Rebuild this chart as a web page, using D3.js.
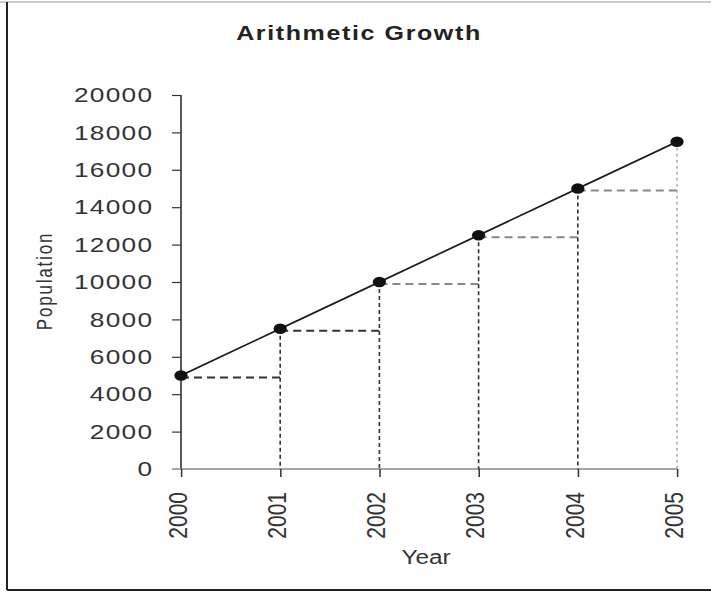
<!DOCTYPE html>
<html lang="en">
<head>
    <meta charset="utf-8">
    <style>
        html, body { margin:0; padding:0; overflow:hidden; background:#fff; }
        svg { display:block; }
        text { font-family: "Liberation Sans", Arial, sans-serif; fill: #333; }
    </style>
</head>
<body>
<svg width="711" height="592"></svg>

<script src="https://cdn.jsdelivr.net/npm/d3@7"></script>
<script type="text/javascript">
    // data
    var years = [2000, 2001, 2002, 2003, 2004, 2005];
    var population = [5000, 7500, 10000, 12500, 15000, 17500];
    var yTicks = [0, 2000, 4000, 6000, 8000, 10000, 12000, 14000, 16000, 18000, 20000];

    var title = "Arithmetic Growth",
        xTitle = "Year",
        yTitle = "Population";

    var svg = d3.select("svg"),
        width = +svg.attr("width"),
        height = +svg.attr("height");

    // the source image is stretched sideways, so draw in a narrower space and scale it
    var sx = 1.25;

    var points = years.map(function (y, i) { return {year: y, value: population[i]}; });

    // frame
    svg.append("line")
        .attr("x1", 0).attr("x2", width).attr("y1", 2).attr("y2", 2)
        .attr("stroke", "#bbb").attr("stroke-width", 1.5);
    svg.append("line")
        .attr("x1", 7).attr("x2", 7).attr("y1", 2).attr("y2", 590)
        .attr("stroke", "#222").attr("stroke-width", 2);
    svg.append("line")
        .attr("x1", 7).attr("x2", width).attr("y1", 590).attr("y2", 590)
        .attr("stroke", "#222").attr("stroke-width", 2);

    var g = svg.append("g").attr("transform", "scale(" + sx + ",1)");

    var x = d3.scaleLinear().domain([2000, 2005]).range([181 / sx, 677 / sx]);
    var y = d3.scaleLinear().domain([0, 20000]).range([469, 95]);

    // title
    g.append("text")
        .attr("x", 359 / sx)
        .attr("y", 40)
        .attr("text-anchor", "middle")
        .style("font-size", "20px")
        .style("font-weight", "bold")
        .style("letter-spacing", "1.3px")
        .style("fill", "#222")
        .text(title);

    // y axis
    var yAxis = g.append("g")
        .attr("transform", "translate(" + x(2000) + ",0)")
        .call(d3.axisLeft(y).tickValues(yTicks).tickFormat(d3.format("d"))
            .tickSize(9 / sx).tickPadding(20 / sx - 1).tickSizeOuter(0));
    yAxis.select(".domain").remove();
    yAxis.selectAll(".tick line").attr("stroke", "#333").attr("stroke-width", 1.2);
    yAxis.selectAll(".tick text")
        .style("font-size", "21px")
        .style("letter-spacing", "1px")
        .style("font-family", "'Liberation Sans', Arial, sans-serif")
        .attr("fill", "#333");
    // the 0 tick is the grey base line
    yAxis.selectAll(".tick").filter(function (d) { return d === 0; }).select("line").remove();

    g.append("line")
        .attr("x1", x(2000)).attr("x2", x(2000))
        .attr("y1", y(20000)).attr("y2", y(0))
        .attr("stroke", "#333").attr("stroke-width", 1.3);

    // x axis
    g.append("line")
        .attr("x1", x(2000) - 9 / sx).attr("x2", x(2005))
        .attr("y1", y(0)).attr("y2", y(0))
        .attr("stroke", "#888").attr("stroke-width", 1.5);

    var xAxis = g.append("g")
        .attr("transform", "translate(0," + y(0) + ")")
        .call(d3.axisBottom(x).tickValues(years).tickFormat(d3.format("d")).tickSize(8).tickSizeOuter(0));
    xAxis.select(".domain").remove();
    xAxis.selectAll(".tick line").attr("stroke", "#333").attr("stroke-width", 1.2);
    xAxis.selectAll(".tick text")
        .style("font-size", "21px")
        .style("font-family", "'Liberation Sans', Arial, sans-serif")
        .attr("fill", "#333")
        .attr("text-anchor", "end")
        .attr("transform", "translate(0,23) rotate(-90)")
        .attr("x", 0)
        .attr("y", 0)
        .attr("dy", "0.2em");

    // axis titles
    g.append("text")
        .attr("x", 426 / sx)
        .attr("y", 564)
        .attr("text-anchor", "middle")
        .style("font-size", "19.5px")
        .text(xTitle);

    g.append("text")
        .attr("transform", "translate(" + (45 / sx) + "," + 281 + ") rotate(-90)")
        .attr("text-anchor", "middle")
        .attr("dy", "0.35em")
        .style("font-size", "17px")
        .style("letter-spacing", "1.8px")
        .text(yTitle);

    // dashed guides: horizontal to next year, vertical down to the axis
    var steps = points.slice(0, -1);
    g.selectAll(".hguide")
        .data(steps)
        .enter()
        .append("line")
        .attr("class", "hguide")
        .attr("x1", function (d) { return x(d.year); })
        .attr("x2", function (d) { return x(d.year + 1) + 3; })
        .attr("y1", function (d) { return y(d.value) + 2; })
        .attr("y2", function (d) { return y(d.value) + 2; })
        .attr("stroke", function (d, i) { return i < 2 ? "#333" : "#888"; })
        .attr("stroke-width", 1.8)
        .attr("stroke-dasharray", "6.4,4");

    g.selectAll(".vguide")
        .data(points.slice(1))
        .enter()
        .append("line")
        .attr("class", "vguide")
        .attr("x1", function (d) { return x(d.year); })
        .attr("x2", function (d) { return x(d.year); })
        .attr("y1", function (d) { return y(d.value); })
        .attr("y2", y(0))
        .attr("stroke", function (d, i) { return i < 4 ? "#333" : "#999"; })
        .attr("stroke-width", function (d, i) { return i < 4 ? 1.3 : 1; })
        .attr("stroke-dasharray", function (d, i) { return i < 4 ? "4,3" : "3,3"; });

    // growth line
    var line = d3.line()
        .x(function (d) { return x(d.year); })
        .y(function (d) { return y(d.value); });

    g.append("path")
        .datum(points)
        .attr("fill", "none")
        .attr("stroke", "#1a1a1a")
        .attr("stroke-width", 1.6)
        .attr("d", line);

    g.selectAll(".dot")
        .data(points)
        .enter()
        .append("circle")
        .attr("class", "dot")
        .attr("cx", function (d) { return x(d.year); })
        .attr("cy", function (d) { return y(d.value); })
        .attr("r", 5.3)
        .attr("fill", "#111");
</script>
</body>
</html>
